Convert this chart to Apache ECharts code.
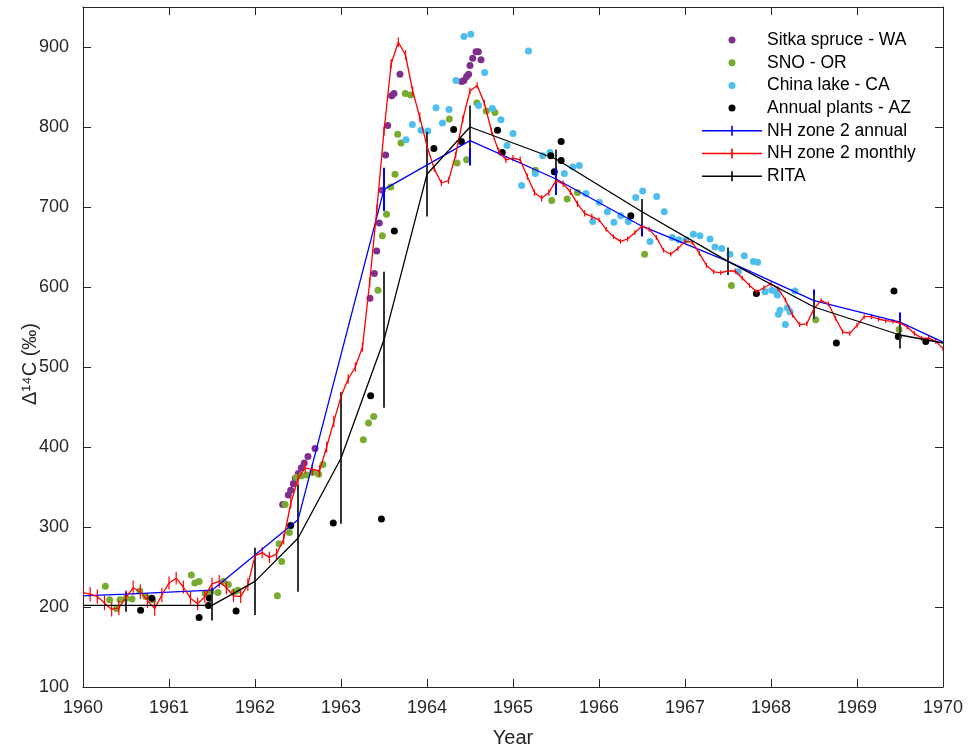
<!DOCTYPE html>
<html>
<head>
<meta charset="utf-8">
<script src="https://cdn.jsdelivr.net/npm/echarts/dist/echarts.min.js"></script>
<style>
html, body { margin: 0; padding: 0; background: #fff; }
#chart { width: 969px; height: 747px; }
</style>
</head>
<body>
<div id="chart"></div>
<script>
// [year, Δ14C] samples
var sitkaWA = [
    [1962.322, 328], [1962.387, 340], [1962.415, 346], [1962.446, 354], [1962.469, 361],
    [1962.504, 367], [1962.539, 374], [1962.573, 380], [1962.616, 388], [1962.698, 398],
    [1963.337, 586], [1963.388, 617], [1963.415, 645], [1963.445, 680], [1963.480, 721],
    [1963.519, 765], [1963.543, 802], [1963.589, 839], [1963.616, 842], [1963.686, 866],
    [1964.403, 857], [1964.430, 858], [1964.461, 863], [1964.484, 866], [1964.500, 877],
    [1964.531, 886], [1964.570, 894], [1964.597, 894], [1964.628, 884]
];
var snoOR = [
    [1960.26, 226], [1960.31, 209], [1960.39, 198], [1960.43, 209], [1960.50, 211],
    [1960.57, 210], [1960.66, 220], [1960.73, 213], [1960.81, 209],
    [1961.26, 240], [1961.30, 230], [1961.35, 232], [1961.42, 217], [1961.49, 219],
    [1961.57, 218], [1961.63, 232], [1961.69, 228], [1961.76, 219], [1961.80, 221],
    [1962.26, 214], [1962.28, 279], [1962.31, 257], [1962.35, 328], [1962.40, 293],
    [1962.48, 362], [1962.54, 364], [1962.60, 365], [1962.67, 368], [1962.74, 366], [1962.79, 378],
    [1963.26, 409], [1963.32, 430], [1963.38, 438], [1963.43, 596], [1963.48, 664],
    [1963.53, 691], [1963.578, 725], [1963.628, 741], [1963.659, 791], [1963.698, 780],
    [1963.748, 842], [1963.81, 840],
    [1964.26, 810], [1964.35, 755], [1964.46, 759], [1964.58, 830], [1964.69, 820], [1964.79, 818],
    [1965.26, 746], [1965.45, 708], [1965.63, 710], [1965.75, 718], [1966.53, 641],
    [1967.54, 602], [1968.52, 559], [1969.49, 547]
];
var chinaLakeCA = [
    [1963.756, 784], [1963.83, 803], [1963.93, 796], [1964.01, 795], [1964.105, 824],
    [1964.18, 805], [1964.256, 822], [1964.337, 858], [1964.43, 913], [1964.51, 916],
    [1964.60, 827], [1964.67, 868], [1964.76, 823], [1964.86, 809], [1964.93, 777],
    [1965.00, 792], [1965.10, 727], [1965.18, 895], [1965.26, 742],
    [1965.345, 764], [1965.43, 768], [1965.597, 742], [1965.694, 750], [1965.771, 752],
    [1965.849, 717], [1965.927, 682], [1966.003, 706], [1966.097, 694], [1966.174, 681],
    [1966.252, 689], [1966.341, 682], [1966.427, 712], [1966.508, 720], [1966.593, 657],
    [1966.671, 713], [1966.759, 694], [1966.852, 662], [1966.930, 659], [1967.012, 659],
    [1967.097, 666], [1967.174, 664], [1967.291, 660], [1967.349, 650], [1967.427, 648],
    [1967.523, 641], [1967.620, 619], [1967.690, 639], [1967.794, 632], [1967.845, 631],
    [1967.930, 594], [1968.008, 596], [1968.058, 594], [1968.073, 590], [1968.085, 566],
    [1968.105, 571], [1968.167, 553], [1968.190, 574], [1968.221, 569], [1968.279, 595]
];
var annualPlantsAZ = [
    [1960.67, 196], [1960.80, 211], [1961.35, 187], [1961.46, 202], [1961.47, 211],
    [1961.78, 195], [1962.415, 302], [1962.91, 305], [1963.345, 464], [1963.47, 310],
    [1963.62, 670], [1964.08, 773], [1964.31, 797], [1964.40, 782], [1964.82, 796],
    [1964.875, 768], [1965.44, 764], [1965.48, 744], [1965.56, 782], [1965.56, 758],
    [1966.37, 689], [1967.83, 592], [1968.76, 530], [1969.43, 595], [1969.48, 538], [1969.80, 532]
];

// NH zone 2 annual means and their errors
var nhAnnual = [
    [1960, 214], [1960.5, 216], [1961.5, 221], [1962.5, 309], [1963.5, 722], [1964.5, 783],
    [1965.5, 735], [1966.5, 676], [1967.5, 632], [1968.5, 583], [1969.5, 556], [1970, 531]
];
var nhAnnualErr = [0, 3, 3, 17, 27, 31, 20, 13, 17, 14, 12, 0];

// NH zone 2 monthly values, Jan 1960 .. Jan 1970
var nhMonthly = [
    218, 216, 213, 205, 197, 199, 212, 224, 219, 208, 198, 215,
    230, 236, 225, 211, 204, 213, 229, 232, 224, 214, 213, 228,
    264, 268, 262, 266, 285, 330, 360, 374, 372, 370, 400, 432,
    463, 485, 500, 525, 606, 697, 795, 879, 906, 890, 845, 812,
    776, 748, 730, 733, 765, 810, 845, 852, 830, 795, 770, 759,
    761, 759, 738, 718, 711, 718, 733, 729, 719, 704, 692, 688,
    684, 672, 663, 657, 660, 668, 676, 672, 662, 646, 641, 648,
    657, 656, 642, 627, 619, 618, 620, 620, 611, 602, 594, 599,
    604, 598, 584, 565, 553, 554, 573, 583, 579, 561, 544, 542,
    552, 563, 563, 560, 558, 557, 555, 550, 542, 536, 536, 532,
    523
];
var nhMonthlyErrByYear = [9, 8, 7, 6, 4, 4, 3, 3, 3, 3, 3];

// RITA
var rita = [
    [1960, 202], [1960.5, 202], [1961.5, 202], [1962, 232], [1962.5, 286], [1963, 386],
    [1963.5, 534], [1964, 741], [1964.5, 800], [1965.5, 760], [1966.5, 694], [1967.5, 632],
    [1968.5, 575], [1969.5, 540], [1970, 530]
];
var ritaErr = [0, 8, 19, 42, 67, 82, 85, 53, 27, 12, 16, 17, 15, 17, 0];

var xTicks = [1960, 1970, 1];
var yTicks = [100, 950, 100];

var FONT = 'Liberation Sans';
var AXIS_COLOR = '#262626';
var COLORS = {
    sitka: '#7E2F8E', sno: '#77AC30', china: '#4DBEEE', plants: '#000000',
    annual: '#0000FF', monthly: '#FF0000', rita: '#000000'
};

var monthly = nhMonthly.map(function (v, i) { return [1960 + i / 12, v]; });
var monthlyErr = nhMonthly.map(function (v, i) { return nhMonthlyErrByYear[Math.floor(i / 12)]; });

var dotIcon = 'path://M0,0L0,0M60,10L60,10M26.5,5A3.5,3.5,0,1,1,33.5,5A3.5,3.5,0,1,1,26.5,5Z';
var barIcon = 'path://M0,4.2L60,4.2L60,5.8L0,5.8ZM29.2,0L30.8,0L30.8,10L29.2,10Z';

function scatter(name, data, color) {
    return {
        name: name, type: 'scatter', data: data, symbolSize: 7, z: 2,
        itemStyle: { color: color, opacity: 1 }
    };
}

function errorBars(name, points, errs, color, width) {
    return {
        name: name, type: 'custom', clip: true, z: 3,
        itemStyle: { color: color },
        encode: { x: 0, y: 1 },
        data: points.map(function (p, i) { return [p[0], p[1], errs[i]]; }),
        renderItem: function (params, api) {
            var x = api.value(0), y = api.value(1), e = api.value(2);
            if (!e) {
                return null;
            }
            var a = api.coord([x, y + e]);
            var b = api.coord([x, y - e]);
            return {
                type: 'line',
                shape: { x1: a[0], y1: a[1], x2: b[0], y2: b[1] },
                style: { stroke: color, lineWidth: width }
            };
        }
    };
}

function line(name, data, color) {
    return {
        name: name, type: 'line', data: data, z: 3,
        showSymbol: false, symbol: 'none',
        lineStyle: { color: color, width: 1.3 },
        itemStyle: { color: color }
    };
}

function legendItem(name, icon, color) {
    return { name: name, icon: icon, itemStyle: { color: color, borderWidth: 0 } };
}

function valueAxis(pos, ticks, extra) {
    var ax = {
        type: 'value', position: pos,
        min: ticks[0], max: ticks[1], interval: ticks[2],
        axisLine: { show: true, onZero: false, lineStyle: { color: AXIS_COLOR, width: 1 } },
        axisTick: { show: true, inside: true, length: 8, lineStyle: { color: AXIS_COLOR } },
        splitLine: { show: false },
        axisLabel: { show: false }
    };
    return Object.assign(ax, extra || {});
}

var labelStyle = {
    show: true, color: AXIS_COLOR, fontSize: 18, fontFamily: FONT,
    formatter: function (v) { return String(v); }
};

var chart = echarts.init(document.getElementById('chart'), null, { renderer: 'canvas' });

chart.setOption({
    animation: false,
    backgroundColor: '#fff',
    grid: { left: 83, right: 26, top: 7, bottom: 60, containLabel: false, outerBoundsMode: 'none' },
    legend: {
        left: 697, top: 26, orient: 'vertical',
        itemWidth: 60, itemHeight: 10, itemGap: 4.7,
        selectedMode: false,
        textStyle: { color: '#000', fontSize: 17.5, fontFamily: FONT },
        data: [
            legendItem('Sitka spruce - WA', dotIcon, COLORS.sitka),
            legendItem('SNO - OR', dotIcon, COLORS.sno),
            legendItem('China lake - CA', dotIcon, COLORS.china),
            legendItem('Annual plants - AZ', dotIcon, COLORS.plants),
            legendItem('NH zone 2 annual', barIcon, COLORS.annual),
            legendItem('NH zone 2 monthly', barIcon, COLORS.monthly),
            legendItem('RITA', barIcon, COLORS.rita)
        ]
    },
    xAxis: [
        valueAxis('bottom', xTicks, {
            axisLabel: Object.assign({}, labelStyle, { margin: 12 }),
            name: 'Year', nameLocation: 'middle', nameGap: 41, nameMoveOverlap: false,
            nameTextStyle: { color: AXIS_COLOR, fontSize: 20, fontFamily: FONT }
        }),
        valueAxis('top', xTicks)
    ],
    yAxis: [
        valueAxis('left', yTicks, {
            axisLabel: Object.assign({}, labelStyle, { margin: 14, showMaxLabel: false }),
            name: 'Δ¹⁴C (‰)', nameLocation: 'middle', nameGap: 43, nameMoveOverlap: false,
            nameTextStyle: { color: AXIS_COLOR, fontSize: 20, fontFamily: FONT, padding: [0, 34, 0, 0] }
        }),
        valueAxis('right', yTicks)
    ],
    series: [
        scatter('Sitka spruce - WA', sitkaWA, COLORS.sitka),
        scatter('SNO - OR', snoOR, COLORS.sno),
        scatter('China lake - CA', chinaLakeCA, COLORS.china),
        scatter('Annual plants - AZ', annualPlantsAZ, COLORS.plants),
        errorBars('NH zone 2 annual', nhAnnual, nhAnnualErr, COLORS.annual, 2),
        line('NH zone 2 annual', nhAnnual, COLORS.annual),
        errorBars('NH zone 2 monthly', monthly, monthlyErr, COLORS.monthly, 1.2),
        line('NH zone 2 monthly', monthly, COLORS.monthly),
        errorBars('RITA', rita, ritaErr, '#333333', 2),
        line('RITA', rita, COLORS.rita)
    ]
});
</script>
</body>
</html>
